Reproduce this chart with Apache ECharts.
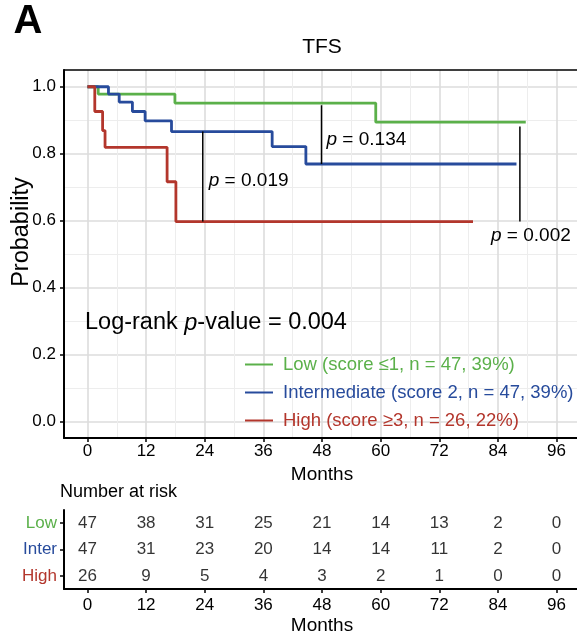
<!DOCTYPE html>
<html><head><meta charset="utf-8">
<script src="https://cdn.jsdelivr.net/npm/echarts@6/dist/echarts.min.js"></script>
<style>html,body{margin:0;padding:0;background:#fff}#c{width:577px;height:634px}</style>
</head><body><div id="c"></div>
<script>
// ---- data ----
const groups = ['Low', 'Inter', 'High'];
const legendNames = ['Low (score \u22641, n = 47, 39%)', 'Intermediate (score 2, n = 47, 39%)', 'High (score \u22653, n = 26, 22%)'];
const lowTimes = [0, 2.2, 17.9, 59, 89.7];
const lowSurv = [1, 0.978, 0.951, 0.894, 0.894];
const interTimes = [0, 4.3, 6.5, 9.2, 11.8, 17.2, 37.8, 44.7, 87.8];
const interSurv = [1, 0.978, 0.954, 0.926, 0.898, 0.866, 0.821, 0.769, 0.769];
const highTimes = [0, 1.5, 3.1, 3.6, 16.3, 18.1, 78.9];
const highSurv = [1, 0.926, 0.869, 0.819, 0.716, 0.597, 0.597];
const pTimes = [23.6, 47.9, 88.5];
const pTop = [0.866, 0.945, 0.881];
const pBottom = [0.597, 0.769, 0.597];
const pValues = ['0.019', '0.134', '0.002'];
const logRankP = '0.004';
const monthTicks = [0, 12, 24, 36, 48, 60, 72, 84, 96];
const monthMinor = [6, 18, 30, 42, 54, 66, 78, 90];
const probTicks = [0, 0.2, 0.4, 0.6, 0.8, 1.0];
const probMinor = [0.1, 0.3, 0.5, 0.7, 0.9];
const riskLow = [47, 38, 31, 25, 21, 14, 13, 2, 0];
const riskInter = [47, 31, 23, 20, 14, 14, 11, 2, 0];
const riskHigh = [26, 9, 5, 4, 3, 2, 1, 0, 0];

// ---- style ----
const FONT = "'Liberation Sans', Arial, sans-serif";
const colors = ['#5bb04a', '#274b9c', '#b3362c'];
const xMin = -4.8, xMax = 100.8, yMin = -0.05, yMax = 1.05;

const chart = echarts.init(document.getElementById('c'), null, {renderer: 'canvas'});

function zip(ts, ss) { return ts.map((t, i) => [t, ss[i]]); }
const kmData = [zip(lowTimes, lowSurv), zip(interTimes, interSurv), zip(highTimes, highSurv)];
const riskData = [riskLow, riskInter, riskHigh];

const series = [];
kmData.forEach((d, i) => {
  series.push({
    name: legendNames[i], type: 'line', step: 'end', data: d,
    xAxisIndex: 0, yAxisIndex: 0, showSymbol: false, symbol: 'none',
    color: colors[i], lineStyle: {width: 2.8, color: colors[i]}, z: 3 + i, silent: true
  });
});
pTimes.forEach((t, i) => {
  series.push({
    type: 'line', data: [[t, pTop[i]], [t, pBottom[i]]], xAxisIndex: 0, yAxisIndex: 0,
    showSymbol: false, symbol: 'none', lineStyle: {color: '#000', width: 1.5}, z: 6, silent: true
  });
});
riskData.forEach((arr, i) => {
  series.push({
    type: 'scatter', xAxisIndex: 2, yAxisIndex: 2, symbolSize: 0, silent: true,
    data: arr.map((v, j) => [monthTicks[j], groups[i], v]),
    label: {show: true, position: 'inside', formatter: p => String(p.value[2]), color: '#000', fontSize: 17, fontFamily: FONT}
  });
});

const axisLineBlack = {show: true, onZero: false, lineStyle: {color: '#000', width: 2}};
const tickBlack = {show: true, length: 4, lineStyle: {color: '#000', width: 1.5}};

const option = {
  backgroundColor: '#fff',
  animation: false,
  textStyle: {fontFamily: FONT},
  grid: [
    {left: 64, top: 70, width: 516, height: 368, outerBoundsMode: 'none', containLabel: false},
    {left: 64, top: 510, width: 516, height: 79, outerBoundsMode: 'none', containLabel: false}
  ],
  legend: {
    orient: 'vertical', left: 245, top: 355, padding: 0, itemWidth: 28, itemHeight: 2, icon: 'rect', itemGap: 9,
    data: legendNames.map((n, i) => ({name: n, textStyle: {color: colors[i]}})),
    textStyle: {fontSize: 18.5, fontFamily: FONT, padding: [0, 0, 0, 5]},
    selectedMode: false
  },
  xAxis: [
    {gridIndex: 0, type: 'value', min: xMin, max: xMax, position: 'bottom',
     axisLine: axisLineBlack, axisTick: Object.assign({customValues: monthTicks}, tickBlack),
     axisLabel: {customValues: monthTicks, color: '#000', fontSize: 17, margin: 5, fontFamily: FONT},
     splitLine: {show: true, lineStyle: {color: '#dcdcdc', width: 1.6}},
     name: 'Months', nameLocation: 'middle', nameGap: 25, nameTextStyle: {color: '#000', fontSize: 19, fontFamily: FONT}},
    {gridIndex: 0, type: 'value', min: xMin, max: xMax, position: 'top',
     axisLine: {show: true, onZero: false, lineStyle: {color: '#000', width: 1.5}},
     axisTick: {show: false, customValues: monthMinor}, axisLabel: {show: false, customValues: monthMinor},
     splitLine: {show: true, lineStyle: {color: '#ededed', width: 1}}},
    {gridIndex: 1, type: 'value', min: xMin, max: xMax, position: 'bottom',
     axisLine: axisLineBlack, axisTick: Object.assign({customValues: monthTicks}, tickBlack),
     axisLabel: {customValues: monthTicks, color: '#000', fontSize: 17, margin: 8, fontFamily: FONT},
     splitLine: {show: false},
     name: 'Months', nameLocation: 'middle', nameGap: 27, nameTextStyle: {color: '#000', fontSize: 19, fontFamily: FONT}}
  ],
  yAxis: [
    {gridIndex: 0, type: 'value', min: yMin, max: yMax, position: 'left',
     axisLine: axisLineBlack, axisTick: Object.assign({customValues: probTicks}, tickBlack),
     axisLabel: {customValues: probTicks, color: '#000', fontSize: 17, margin: 8, fontFamily: FONT, formatter: v => Number(v).toFixed(1)},
     splitLine: {show: true, lineStyle: {color: '#dcdcdc', width: 1.6}}},
    {gridIndex: 0, type: 'value', min: yMin, max: yMax, position: 'right',
     axisLine: {show: false}, axisTick: {show: false, customValues: probMinor}, axisLabel: {show: false, customValues: probMinor},
     splitLine: {show: true, lineStyle: {color: '#ededed', width: 1}}},
    {gridIndex: 1, type: 'category', data: groups, inverse: true, position: 'left',
     axisLine: axisLineBlack, axisTick: Object.assign({alignWithLabel: true}, tickBlack),
     axisLabel: {fontSize: 17, margin: 7, fontFamily: FONT, color: (v, i) => colors[groups.indexOf(v)]},
     splitLine: {show: false}}
  ],
  series: series
};
chart.setOption(option);

// ---- annotation texts (positioned from data via the chart's own scales) ----
const px = (t, y) => chart.convertToPixel({gridIndex: 0}, [t, y]);
const rich = {i: {fontStyle: 'italic', fontSize: 19, fontFamily: FONT, fill: '#000'}, n: {fontSize: 19, fontFamily: FONT, fill: '#000'}};
const graphics = [];
const pPos = [
  {a: px(pTimes[0], (pTop[0] + pBottom[0]) / 2), dx: 6, dy: 4, align: 'left'},
  {a: px(pTimes[1], (pTop[1] + pBottom[1]) / 2), dx: 5, dy: 5, align: 'left'},
  {a: px(pTimes[2], pBottom[2]), dx: 11, dy: 14, align: 'center'}
];
pPos.forEach((p, i) => {
  graphics.push({type: 'text', x: p.a[0] + p.dx, y: p.a[1] + p.dy, silent: true,
    style: {text: '{i|p}{n| = ' + pValues[i] + '}', rich: rich, align: p.align, verticalAlign: 'middle'}});
});
graphics.push({type: 'text', x: 85, y: 323, silent: true,
  style: {text: '{n|Log-rank }{i|p}{n|-value = ' + logRankP + '}', align: 'left', verticalAlign: 'middle',
    rich: {i: {fontStyle: 'italic', fontSize: 23.5, fontFamily: FONT, fill: '#000'}, n: {fontSize: 23.5, fontFamily: FONT, fill: '#000'}}}});
graphics.push({type: 'text', x: 322, y: 47, silent: true,
  style: {text: 'TFS', fontSize: 21, fontFamily: FONT, fill: '#000', align: 'center', verticalAlign: 'middle'}});
graphics.push({type: 'text', x: 28, y: 22, silent: true,
  style: {text: 'A', fontSize: 40, fontWeight: 'bold', fontFamily: FONT, fill: '#000', align: 'center', verticalAlign: 'middle'}});
graphics.push({type: 'text', x: 22, y: 232, rotation: Math.PI / 2, silent: true,
  style: {text: 'Probability', fontSize: 23.5, fontFamily: FONT, fill: '#000', align: 'center', verticalAlign: 'middle'}});
graphics.push({type: 'text', x: 60, y: 492, silent: true,
  style: {text: 'Number at risk', fontSize: 18, fontFamily: FONT, fill: '#000', align: 'left', verticalAlign: 'middle'}});
chart.setOption({graphic: graphics});
</script>
</body></html>
